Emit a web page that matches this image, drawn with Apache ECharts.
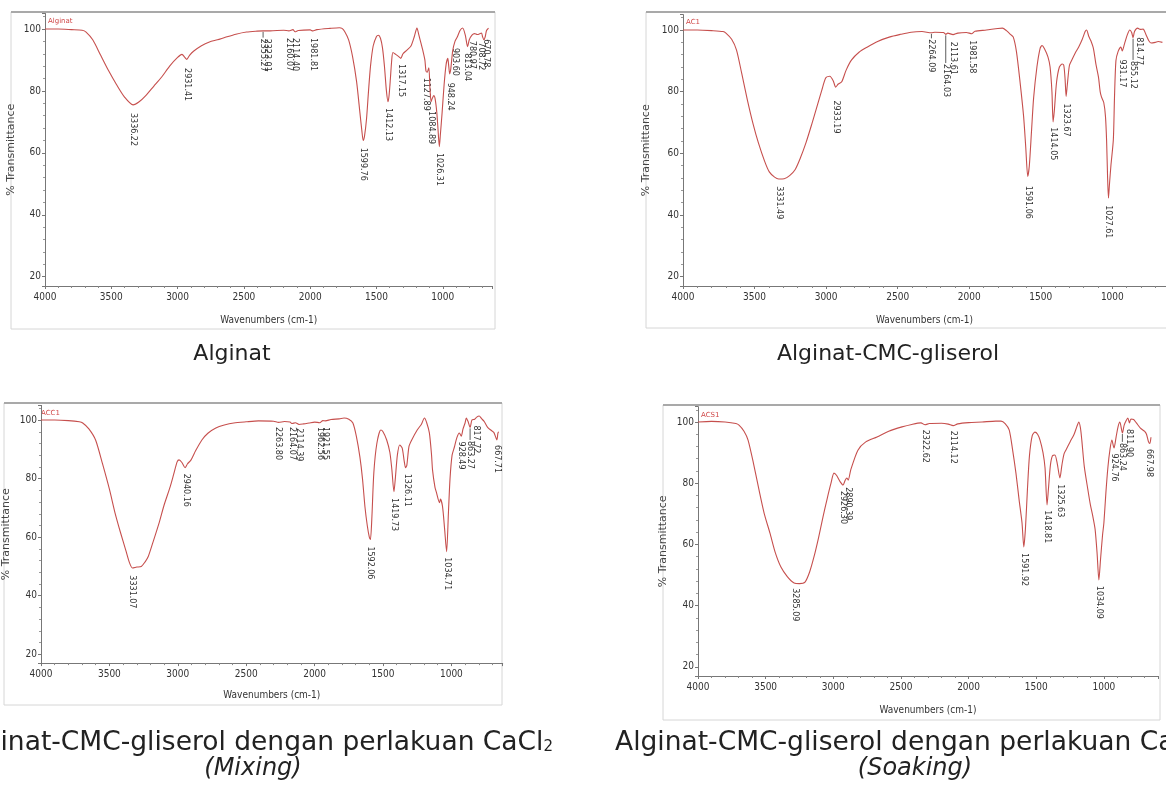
<!DOCTYPE html>
<html>
<head>
<meta charset="utf-8">
<script src="https://cdn.jsdelivr.net/npm/echarts@6/dist/echarts.min.js"></script>
<style>
  html, body { margin: 0; padding: 0; background: #fff; }
  #chart { width: 1166px; height: 787px; }
</style>
</head>
<body>
<div id="chart"></div>
<script>
// spectra: [wavenumber, %T]
var alginatCurve = [
  [4000,100],[3900,100],[3800,99.8],[3720,99.6],[3690,99],[3640,96.5],[3580,91.5],[3520,86.5],[3460,82],[3400,78],
  [3336,75.5],[3290,76.5],[3240,78.5],[3180,81.5],[3120,84.5],[3060,88],[3000,90.8],[2967,91.8],[2945,90.8],[2931,90.2],
  [2910,91.5],[2880,92.8],[2820,94.6],[2760,95.8],[2700,96.5],[2640,97.3],[2560,98.3],[2480,99],[2400,99.3],[2355,99.4],
  [2300,99.4],[2200,99.6],[2160,99.4],[2130,99.8],[2114,99.1],[2090,99.5],[2000,99.7],[1981,99.4],[1950,99.8],[1850,100.2],
  [1780,100.4],[1760,100.2],[1740,99.2],[1710,96.5],[1680,91],[1650,83],[1625,73],[1610,67],[1600,64],[1590,65.5],
  [1575,71],[1560,80],[1545,88],[1525,94.5],[1500,97.6],[1485,98],[1470,97],[1455,94],[1440,88],[1425,80],
  [1413,76.5],[1405,78.5],[1395,84],[1385,90],[1376,92.4],[1355,91.8],[1330,91],[1317,90.5],[1300,92],[1270,93.2],
  [1240,94.5],[1215,97.5],[1195,100.3],[1180,98],[1165,95.5],[1150,93],[1135,90],[1127,86.5],[1118,86],[1105,87.5],
  [1097,81],[1088,76.5],[1080,77.5],[1068,78.5],[1058,77.5],[1045,73],[1035,67],[1026,62],[1018,66],[1005,73],
  [990,82],[975,88.5],[962,90.5],[955,88],[948,85.5],[940,87],[925,93],[908,96],[890,97.5],[870,99.5],
  [850,100.3],[830,98],[813,94.3],[800,96.5],[780,98],[760,98.5],[740,98.2],[708,98.7],[700,97.5],[690,96.5],
  [680,97.5],[670,99.5],[655,100.3]
];
var alginatPeaks = [3336.22, 2931.41, 2355.27, 2323.01, 2160.07, 2114.40, 1981.81, 1599.76, 1412.13, 1317.15, 1127.89, 1084.89, 1026.31, 948.24, 903.60, 813.04, 780.97, 708.72, 670.78];
// %T where a label's leader line starts (same as the label top when there is no leader)
var alginatPeakLine = [73.2, 87.7, 99.4, 97.2, 97.4, 97.4, 97.4, 62, 74.8, 89, 84.6, 73.8, 60.3, 83, 94.2, 92.5, 96.5, 96, 97];
var alginatPeakTop = [73.2, 87.7, 97.2, 97.2, 97.4, 97.4, 97.4, 62, 74.8, 89, 84.6, 73.8, 60.3, 83, 94.2, 92.5, 96.5, 96, 97];

var ac1Curve = [
  [4000,100],[3900,100],[3800,99.8],[3720,99.5],[3700,99],[3660,97],[3626,93.5],[3590,86],[3550,77.3],[3510,69.5],
  [3473,63.4],[3430,57.5],[3397,54],[3360,52.3],[3331,51.7],[3293,51.8],[3255,52.8],[3217,54.7],[3180,58.5],[3141,63.4],
  [3100,69.5],[3065,75],[3030,80.5],[3002,84.5],[2974,85],[2950,83.5],[2933,81.5],[2915,82.5],[2891,83.2],[2860,87],
  [2822,90.3],[2770,92.8],[2711,94.5],[2640,96.3],[2559,97.7],[2480,98.6],[2406,99.3],[2330,99.5],[2264,99.1],[2240,99.3],
  [2180,99.2],[2164,98.6],[2150,99],[2113,98.5],[2080,99],[2020,99.2],[1981,98.8],[1960,99.6],[1880,100],[1800,100.5],
  [1768,100.6],[1740,99.8],[1710,98.5],[1692,97.7],[1670,93],[1644,82.8],[1620,72],[1605,62],[1591,52.5],[1580,56],
  [1565,67],[1550,78],[1527,88],[1505,94],[1491,95],[1475,94],[1450,91.3],[1435,88],[1422,80],[1414,70.2],
  [1405,74],[1390,83],[1370,88],[1350,89],[1339,88.5],[1330,84],[1323,78.5],[1315,82],[1300,88.5],[1283,90.3],
  [1260,92.5],[1235,94.5],[1210,97],[1190,99.5],[1180,100],[1165,98],[1150,96.5],[1132,94],[1115,89],[1097,84.8],
  [1085,80],[1076,78.3],[1060,76.5],[1048,72],[1040,64],[1033,52],[1027,45.5],[1020,50],[1010,56],[993,64.4],
  [985,78],[975,90],[960,93],[940,94.5],[931,93.2],[915,95.5],[895,98.5],[878,100],[865,99.2],[855,97.5],
  [845,99.5],[823,100.6],[805,100.2],[785,100.3],[764,98.4],[745,96.5],[730,95.8],[700,96],[680,96.3],[650,96]
];
var ac1Peaks = [3331.49, 2933.19, 2264.09, 2164.03, 2113.61, 1981.58, 1591.06, 1414.05, 1323.67, 1027.61, 931.17, 855.12, 814.77];
var ac1PeakLine = [49.7, 77.5, 99.1, 98.6, 96.5, 97, 49.8, 68.8, 76.5, 43.5, 90.8, 97.5, 98];
var ac1PeakTop = [49.7, 77.5, 97.3, 89.3, 96.5, 97, 49.8, 68.8, 76.5, 43.5, 90.8, 90.3, 98];

var acc1Curve = [
  [4000,100],[3900,100],[3800,99.8],[3720,99.4],[3695,99],[3650,97],[3601,93.2],[3550,85],[3499,76.2],[3460,68.5],
  [3419,61.6],[3380,55.5],[3354,51.4],[3332,49.5],[3300,49.8],[3267,50],[3240,51.5],[3216,53.4],[3180,58.5],[3136,65],
  [3100,71],[3056,77.2],[3030,81.5],[3005,85.7],[2991,86.4],[2970,85.5],[2947,83.7],[2930,85],[2903,86.4],[2870,89.5],
  [2824,93.2],[2780,95.5],[2722,97.3],[2660,98.3],[2591,99],[2500,99.4],[2410,99.7],[2300,99.6],[2263,99.2],[2220,99.5],
  [2180,99.3],[2164,98.8],[2140,99.1],[2114,98.5],[2080,98.7],[2040,99],[2000,99.3],[1962,99.1],[1940,99.8],[1921,99.7],
  [1880,100.2],[1820,100.4],[1785,100.7],[1750,100.3],[1720,99],[1695,94.5],[1669,87.4],[1650,80],[1632,70.4],[1615,64],
  [1600,60],[1592,59.2],[1582,66],[1567,82],[1545,92],[1516,96.6],[1500,96],[1473,93.2],[1450,89],[1435,83],
  [1420,75.5],[1410,80],[1395,88],[1378,91.5],[1360,90.5],[1345,86],[1335,83.7],[1326,84.5],[1310,91],[1290,93.2],
  [1250,96.6],[1220,98.5],[1197,100.7],[1180,99],[1161,95.6],[1145,88],[1138,83],[1120,77],[1109,75.2],[1087,71.8],
  [1080,73],[1065,70.5],[1050,63],[1035,55],[1022,68],[1010,80],[995,88],[978,90.8],[960,94],[942,95.6],
  [928,94.5],[915,97],[900,99],[891,100.7],[878,99.5],[863,97.5],[850,100],[830,100.3],[815,101],[797,101.4],
  [780,100.5],[760,99.5],[735,97.5],[710,96.5],[690,95.8],[675,94],[667,93.2],[660,95.5],[655,96]
];
var acc1Peaks = [3331.07, 2940.16, 2263.80, 2164.07, 2114.39, 1962.56, 1921.55, 1592.06, 1419.73, 1326.11, 1034.71, 928.49, 863.27, 817.72, 667.71];
var acc1PeakLine = [47.3, 82, 98, 98, 97.5, 98, 98, 57.2, 73.7, 82, 53.5, 93, 97.5, 98.5, 91.8];
var acc1PeakTop = [47.3, 82, 98, 98, 97.5, 98, 98, 57.2, 73.7, 82, 53.5, 93, 93.2, 98.5, 91.8];

var acs1Curve = [
  [4000,100],[3900,100.2],[3800,100],[3720,99.5],[3697,99],[3660,97],[3630,94.1],[3590,86.5],[3549,77.8],[3510,70],
  [3468,63.7],[3430,57.5],[3387,52.6],[3340,49.5],[3290,47.4],[3250,47.2],[3209,47.7],[3175,51],[3143,55.9],[3110,62],
  [3076,69],[3045,75],[3017,80],[2995,83.3],[2975,82.5],[2950,80.5],[2928,79.4],[2912,81],[2899,81.7],[2890,81],
  [2870,84.5],[2818,90.8],[2760,93.5],[2677,95.1],[2590,97],[2492,98.4],[2420,99.2],[2352,99.7],[2322,99.1],[2290,99.5],
  [2200,99.6],[2150,99.3],[2114,98.8],[2080,99.4],[2000,99.8],[1900,100],[1800,100.3],[1760,100.3],[1730,99.5],[1700,97.4],
  [1675,91],[1650,83.3],[1625,74],[1605,67],[1592,59.2],[1580,65],[1565,78],[1550,89],[1530,95.5],[1510,96.7],
  [1490,96],[1472,94.1],[1450,90],[1435,85],[1420,72.9],[1410,78],[1395,86],[1380,89],[1362,89.2],[1345,86.5],
  [1325,81.7],[1310,86],[1295,89.5],[1281,90.8],[1250,93.5],[1220,96],[1200,98.5],[1185,100],[1173,98],[1163,94],
  [1145,85.5],[1118,77.8],[1100,73],[1081,69],[1065,65],[1050,57],[1037,48.4],[1025,55],[1010,63],[1000,67],
  [985,77],[970,85.3],[955,91],[941,94.1],[925,91.5],[910,95],[895,98.5],[882,100],[863,96.4],[850,99],
  [835,100.5],[823,101.3],[811,99.7],[800,101],[780,100.8],[760,99.7],[730,98],[700,97],[685,96],[670,93.5],
  [660,93],[652,95]
];
var acs1Peaks = [3285.09, 2926.30, 2890.39, 2322.62, 2114.12, 1591.92, 1418.81, 1325.63, 1034.09, 924.76, 863.24, 811.90, 667.98];
var acs1PeakLine = [46, 77.8, 79, 97.8, 97.5, 57.5, 71.5, 80, 46.8, 90, 96.4, 98, 91.5];
var acs1PeakTop = [46, 77.8, 79, 97.8, 97.5, 57.5, 71.5, 80, 46.8, 90, 93.5, 98, 91.5];

var sampleTags = ['Alginat', 'AC1', 'ACC1', 'ACS1'];
var yMin = 17, yMax = 105;

// layout of the four scanned panels
var panels = [
  { tag: sampleTags[0], curve: alginatCurve, peaks: alginatPeaks, line: alginatPeakLine, top: alginatPeakTop,
    grid: { left: 45, top: 13.5, width: 447.5, height: 272.5 }, xMin: 625, yGap: 28, xGap: 29,
    frame: { x: 11, y: 12, w: 484, h: 317 } },
  { tag: sampleTags[1], curve: ac1Curve, peaks: ac1Peaks, line: ac1PeakLine, top: ac1PeakTop,
    grid: { left: 683, top: 14.6, width: 487, height: 271.4 }, xMin: 625, yGap: 31, xGap: 29,
    frame: { x: 646, y: 12, w: 540, h: 316 } },
  { tag: sampleTags[2], curve: acc1Curve, peaks: acc1Peaks, line: acc1PeakLine, top: acc1PeakTop,
    grid: { left: 38, top: 405.4, width: 464.7, height: 257.7 }, xMin: 625, yGap: 29, xGap: 27,
    frame: { x: 4, y: 403, w: 498, h: 302 } },
  { tag: sampleTags[3], curve: acs1Curve, peaks: acs1Peaks, line: acs1PeakLine, top: acs1PeakTop,
    grid: { left: 698, top: 406.7, width: 460, height: 269.3 }, xMin: 600, yGap: 29, xGap: 29,
    frame: { x: 663, y: 405, w: 497, h: 315 } }
];

var narrow = "'Liberation Sans Narrow', 'DejaVu Sans Condensed', 'Liberation Sans', sans-serif";
var lineColor = '#c64f4d';

var grids = [], xAxes = [], yAxes = [], series = [], graphics = [];

panels.forEach(function (p, i) {
  grids.push(p.grid);
  xAxes.push({
    gridIndex: i, type: 'value', inverse: true, min: p.xMin, max: 4000, splitNumber: 7,
    axisLine: { lineStyle: { color: '#777', width: 1 } },
    axisTick: { length: 3, lineStyle: { color: '#777' } },
    minorTick: { show: true, splitNumber: 5, length: 2, lineStyle: { color: '#888' } },
    splitLine: { show: false },
    axisLabel: { showMinLabel: false, showMaxLabel: true, fontSize: 10, color: '#333', margin: 6, fontFamily: narrow,
      formatter: function (v) { return String(v); } },
    name: 'Wavenumbers (cm-1)', nameLocation: 'middle', nameGap: p.xGap,
    nameTextStyle: { fontSize: 10, color: '#333', fontFamily: narrow }
  });
  yAxes.push({
    gridIndex: i, type: 'value', min: yMin, max: yMax, splitNumber: 4,
    axisLine: { show: true, lineStyle: { color: '#777', width: 1 } },
    axisTick: { show: true, length: 3, lineStyle: { color: '#777' } },
    minorTick: { show: true, splitNumber: 5, length: 2, lineStyle: { color: '#999' } },
    splitLine: { show: false },
    axisLabel: { showMinLabel: false, showMaxLabel: false, fontSize: 10, color: '#333', margin: 4, fontFamily: narrow },
    name: '% Transmittance', nameLocation: 'middle', nameGap: p.yGap, nameRotate: 90,
    nameTextStyle: { fontSize: 11, color: '#444', fontFamily: 'DejaVu Sans' }
  });
  series.push({
    type: 'line', xAxisIndex: i, yAxisIndex: i, data: p.curve, symbol: 'none',
    smooth: 0.25, lineStyle: { color: lineColor, width: 1.1 }, silent: true
  });
  var peakData = p.peaks.map(function (w, k) { return [w, p.line[k], p.top[k]]; });
  series.push({
    type: 'custom', xAxisIndex: i, yAxisIndex: i, data: peakData, silent: true, clip: false,
    renderItem: function (params, api) {
      var wn = api.value(0);
      var a = api.coord([wn, api.value(1)]);
      var b = api.coord([wn, api.value(2)]);
      var kids = [];
      if (b[1] - a[1] > 1) {
        kids.push({ type: 'line', shape: { x1: a[0], y1: a[1] + 1, x2: b[0], y2: b[1] },
          style: { stroke: '#333', lineWidth: 0.8 } });
      }
      kids.push({ type: 'text', x: b[0], y: b[1] + 1, rotation: -Math.PI / 2,
        style: { text: wn.toFixed(2), fontSize: 8, fontFamily: 'DejaVu Sans', fill: '#333',
          align: 'left', verticalAlign: 'middle' } });
      return { type: 'group', children: kids };
    }
  });
  // scanned panel frame
  graphics.push({ type: 'rect', shape: { x: p.frame.x, y: p.frame.y, width: p.frame.w, height: p.frame.h },
    style: { fill: null, stroke: '#d6d6d6', lineWidth: 1 }, z: -1 });
  graphics.push({ type: 'line', shape: { x1: p.frame.x, y1: p.frame.y, x2: p.frame.x + p.frame.w, y2: p.frame.y },
    style: { stroke: '#a9a9a9', lineWidth: 2 }, z: -1 });
  graphics.push({ type: 'text', x: p.grid.left + 3, y: p.grid.top + 8,
    style: { text: p.tag, fontSize: 7, fill: '#d04848', fontFamily: 'DejaVu Sans', verticalAlign: 'middle' } });
});

var capFont = "'DejaVu Sans', sans-serif";
var subRich = { s: { fontSize: 15, fill: '#222', fontFamily: capFont, padding: [9, 0, 0, 0] } };
graphics.push(
  { type: 'text', x: 232, y: 354, style: { text: 'Alginat', fontSize: 22, fill: '#222', fontFamily: capFont, align: 'center', verticalAlign: 'middle' } },
  { type: 'text', x: 888, y: 354, style: { text: 'Alginat-CMC-gliserol', fontSize: 22, fill: '#222', fontFamily: capFont, align: 'center', verticalAlign: 'middle' } },
  { type: 'text', x: 553, y: 743, style: { text: 'Alginat-CMC-gliserol dengan perlakuan CaCl{s|2}', fontSize: 26.5, fill: '#222', fontFamily: capFont, align: 'right', verticalAlign: 'middle', rich: subRich } },
  { type: 'text', x: 253, y: 769, style: { text: '(Mixing)', fontSize: 24, fontStyle: 'italic', fill: '#222', fontFamily: capFont, align: 'center', verticalAlign: 'middle' } },
  { type: 'text', x: 615, y: 743, style: { text: 'Alginat-CMC-gliserol dengan perlakuan CaCl{s|2}', fontSize: 26.5, fill: '#222', fontFamily: capFont, align: 'left', verticalAlign: 'middle', rich: subRich } },
  { type: 'text', x: 915, y: 769, style: { text: '(Soaking)', fontSize: 24, fontStyle: 'italic', fill: '#222', fontFamily: capFont, align: 'center', verticalAlign: 'middle' } }
);

var chart = echarts.init(document.getElementById('chart'), null, { renderer: 'canvas' });
chart.setOption({
  animation: false,
  backgroundColor: '#fff',
  grid: grids,
  xAxis: xAxes,
  yAxis: yAxes,
  series: series,
  graphic: graphics
});
</script>
</body>
</html>
